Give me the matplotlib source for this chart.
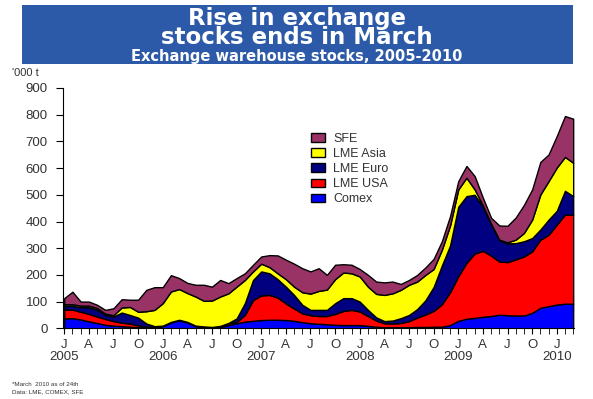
import numpy as np
import matplotlib
matplotlib.use('Agg')
from matplotlib import pyplot as plt
from matplotlib.patches import Rectangle

# monthly stocks, Jan 2005 - Mar 2010, cumulative tops ('000 t)
comex_top = [37, 38, 33, 26, 20, 13, 10, 8, 6, 4, 3, 4, 8, 22, 30, 22, 8, 5, 3, 5,
             12, 19, 25, 28, 31, 32, 32, 31, 28, 23, 19, 17, 15, 13, 12, 12, 12, 9, 6, 4,
             4, 4, 4, 5, 5, 6, 6, 12, 28, 36, 39, 43, 46, 51, 49, 48, 48, 58, 77, 83,
             89, 92, 92]
usa_top = [71, 70, 62, 54, 44, 35, 27, 21, 18, 11, 6, 5, 9, 23, 31, 23, 9, 6, 4, 7,
           19, 24, 50, 106, 123, 125, 115, 93, 74, 56, 49, 46, 46, 54, 65, 69, 63, 46, 29, 19,
           18, 20, 27, 40, 52, 65, 90, 135, 195, 245, 280, 290, 272, 250, 248, 258, 269, 288, 332, 350,
           388, 426, 426]
euro_top = [84, 84, 79, 79, 70, 50, 44, 59, 50, 40, 18, 8, 10, 24, 32, 24, 10, 7, 5, 9,
            20, 37, 94, 181, 213, 206, 184, 156, 125, 88, 69, 69, 69, 94, 113, 113, 100, 69, 41, 27,
            29, 38, 50, 72, 105, 155, 235, 310, 455, 495, 500, 455, 390, 330, 318, 319, 326, 338, 370, 407,
            440, 515, 495]
asia_top = [90, 90, 85, 85, 76, 55, 49, 78, 80, 62, 64, 69, 94, 138, 147, 132, 119, 103, 104, 119,
            131, 156, 181, 213, 242, 229, 206, 184, 156, 135, 130, 140, 145, 184, 209, 206, 194, 156, 129, 125,
            131, 144, 163, 175, 200, 222, 294, 385, 520, 564, 520, 460, 392, 332, 322, 332, 357, 407, 501, 551,
            602, 642, 620]
sfe_top = [113, 137, 100, 100, 88, 69, 75, 109, 107, 107, 144, 154, 154, 199, 188, 170, 163, 163, 156, 181,
           169, 188, 206, 238, 269, 274, 273, 257, 242, 225, 213, 225, 200, 238, 240, 238, 222, 200, 175, 172,
           175, 166, 181, 200, 228, 260, 326, 420, 551, 608, 570, 489, 414, 385, 384, 415, 462, 520, 623, 651,
           720, 795, 785]

names = ['Comex', 'LME USA', 'LME Euro', 'LME Asia', 'SFE']
colors = ['#0000FF', '#FF0000', '#000080', '#FFFF00', '#993366']
month_lbl = ['J', 'A', 'J', 'O']
years = ['2005', '2006', '2007', '2008', '2009', '2010']

tops = np.array([comex_top, usa_top, euro_top, asia_top, sfe_top], dtype=float)
layers = np.diff(np.vstack([np.zeros(tops.shape[1]), tops]), axis=0)
x = np.arange(tops.shape[1])

fig = plt.figure(figsize=(5.93, 3.99), dpi=100)
plt.rcParams['font.family'] = ['Liberation Sans', 'DejaVu Sans']

# title banner
fig.patches.append(Rectangle((22/593, 1-64/399), 551/593, 59/399, transform=fig.transFigure,
                             facecolor='#2D5AA8', edgecolor='none'))
tfont = dict(color='white', fontweight='bold', ha='center', family='DejaVu Sans')
fig.text(0.5, 1-7/399, 'Rise in exchange\nstocks ends in March', fontsize=16.5, va='top',
         linespacing=0.78, multialignment='center', **tfont)
fig.text(0.5, 1-61/399, 'Exchange warehouse stocks, 2005-2010', fontsize=10.5, va='baseline', **tfont)

ax = fig.add_axes([63/593, 1-328.3/399, 511/593, 240.3/399])
polys = ax.stackplot(x, layers, colors=colors, edgecolor='black', linewidth=1.0, labels=names)
ax.set_ylim(0, 900)
ax.set_xlim(-0.15, 62.1)
ax.set_yticks(range(0, 901, 100))
ax.tick_params(axis='y', labelsize=9.5, labelcolor='#333333', length=5, direction='out', pad=6)
ax.spines['top'].set_visible(False)
ax.spines['right'].set_visible(False)

qpos = list(range(0, 63, 3))
qlbl = []
for k, p in enumerate(qpos):
    s = month_lbl[k % 4]
    if p % 12 == 0:
        s = s + '\n' + years[p // 12]
    qlbl.append(s)
ax.set_xticks(qpos)
ax.set_xticklabels(qlbl, fontsize=9.5, color='#333333', linespacing=0.9)
ax.set_xticks(x, minor=True)
ax.tick_params(axis='x', which='both', length=4, direction='out')
ax.tick_params(axis='x', which='major', pad=4)

fig.text(12/593, 1-73/399, "'000 t", fontsize=8, color='#333333', va='center')

h, l = ax.get_legend_handles_labels()
leg = ax.legend(h[::-1], l[::-1], loc='upper left', bbox_to_anchor=(0.463, 0.86), frameon=False,
                fontsize=9, handlelength=1.1, handleheight=0.7, labelspacing=0.25,
                handletextpad=0.7)
for t in leg.get_texts():
    t.set_color('#333333')

fig.text(12/593, 1-385/399, '*March  2010 as of 24th', fontsize=4.5, color='#333333', va='center')
fig.text(12/593, 1-392/399, 'Data: LME, COMEX, SFE', fontsize=4.5, color='#333333', va='center')

fig.savefig('out.png', dpi=100)
